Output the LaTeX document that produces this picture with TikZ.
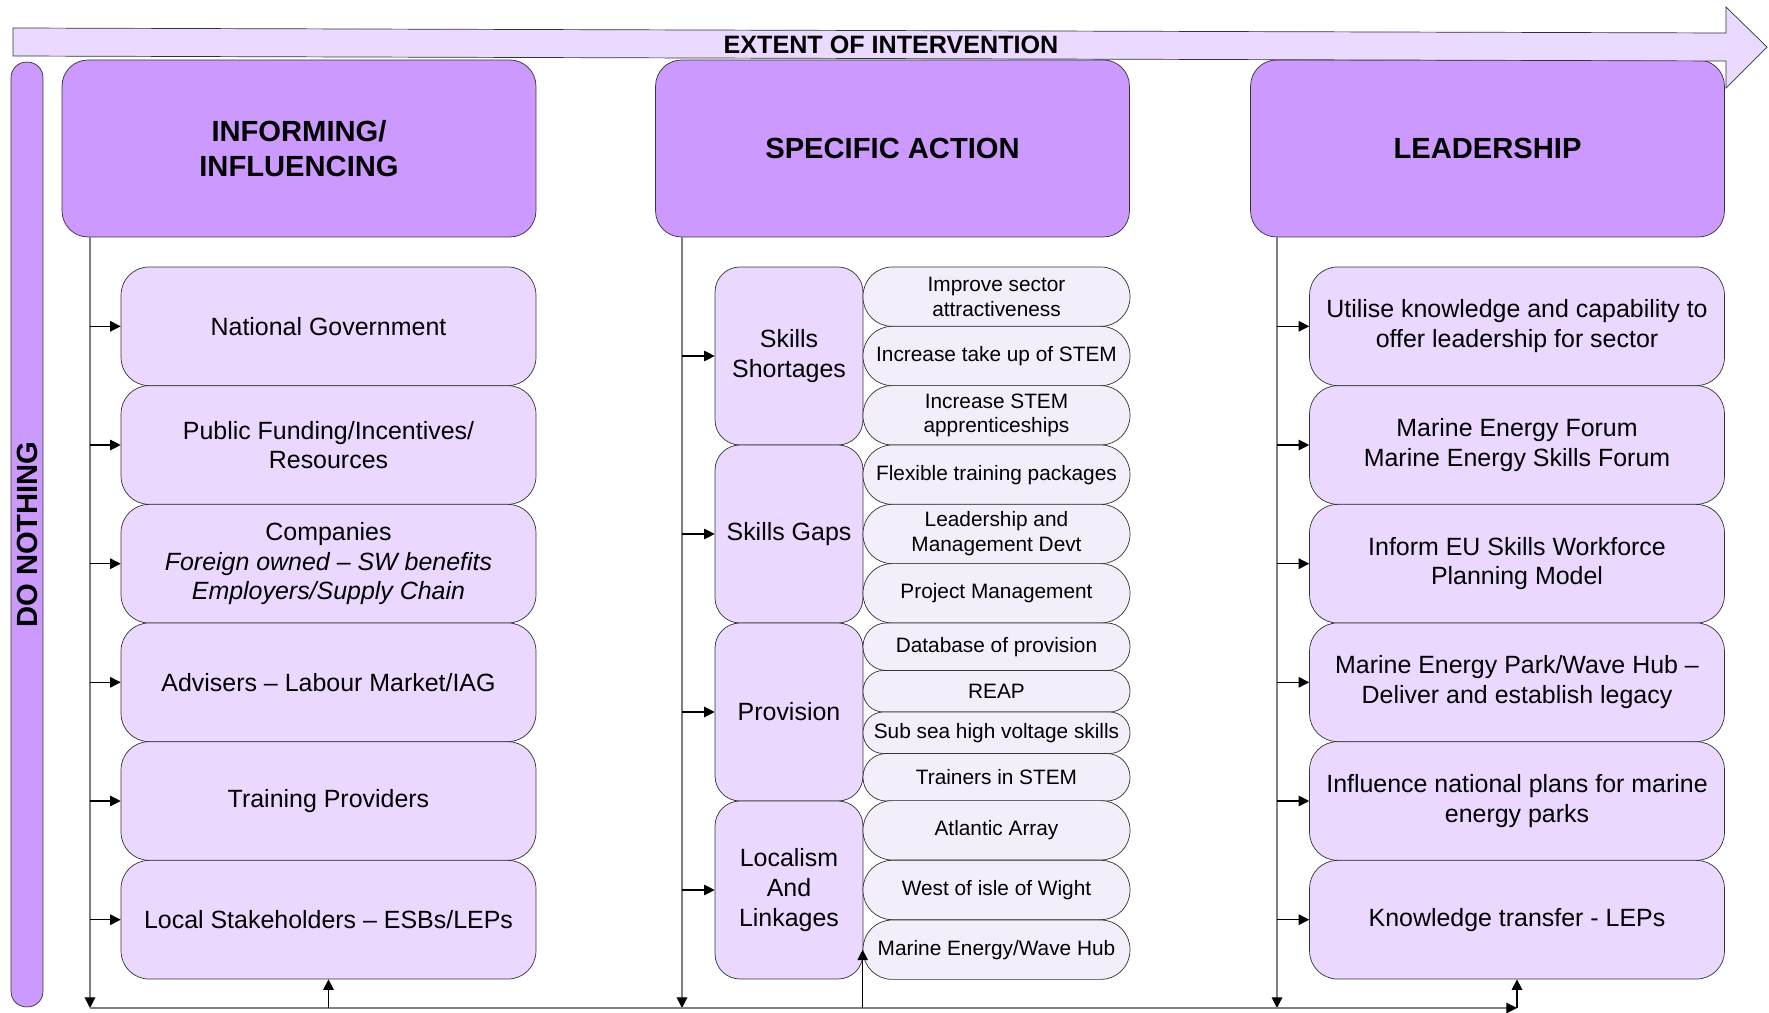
\documentclass[tikz,border=0pt]{standalone}
\usepackage{fontspec}
\setmainfont{Liberation Sans}
\usepackage{tikz}
\usetikzlibrary{arrows.meta}
\definecolor{headfill}{HTML}{CC99FF}
\definecolor{itemfill}{HTML}{EAD8FF}
\definecolor{subfill}{HTML}{F4EDFA}
\definecolor{bandfill}{HTML}{EBDAFF}

\begin{document}
\begin{tikzpicture}[x=0.02cm,y=-0.02cm,
    head/.style={draw=black!80,fill=headfill,rounded corners=0.52cm,minimum width=9.48cm,minimum height=3.54cm,inner sep=0pt,align=center,font=\fontsize{16.6}{20}\selectfont\bfseries},
    item/.style={draw=black!80,fill=itemfill,rounded corners=0.56cm,minimum width=8.3cm,minimum height=2.373cm,inner sep=0pt,align=center,font=\fontsize{14.2}{16.8}\selectfont},
    cat/.style={item,minimum width=2.96cm,minimum height=3.56cm,rounded corners=0.5cm,font=\fontsize{14.2}{17}\selectfont},
    sub/.style={draw=black!80,fill=subfill,minimum width=5.34cm,minimum height=#1cm,rounded corners=#1*0.49cm,inner sep=0pt,align=center,font=\fontsize{11.85}{14.1}\selectfont},
    spine/.style={draw=black!50,line width=0.6pt},
    tip/.style={line width=0.6pt,-{Triangle[length=6pt,width=6pt,color=black]}}]
    \useasboundingbox (0,0) rectangle (1769,1013);
    \node[head] (hInform) at (299,148.5) {INFORMING/\\INFLUENCING};
    \node[head] (hAction) at (892.5,148.5) {SPECIFIC ACTION};
    \node[head] (hLead) at (1487.5,148.5) {LEADERSHIP};
    \draw[draw=black!80,fill=bandfill] (13,28) -- (1726,33) -- (1726,7) -- (1767,47) -- (1726,88) -- (1726,61) -- (13,56) -- cycle;
    \node[font=\fontsize{14.3}{17}\selectfont\bfseries] (band) at (891,44.5) {EXTENT OF INTERVENTION};
    \node[draw=black!80,fill=headfill,rounded corners=0.31cm,minimum width=18.9cm,minimum height=0.64cm,inner sep=0pt,rotate=90,font=\fontsize{16.6}{20}\selectfont\bfseries] (idle) at (27,534.5) {DO NOTHING};

    \node[item] (l1) at (328.5,326.3) {National Government};
    \node[item] (l2) at (328.5,445) {Public Funding/Incentives/\\Resources};
    \node[item] (l3) at (328.5,563.7) {Companies\\\itshape Foreign owned -- SW benefits\\\itshape Employers/Supply Chain};
    \node[item] (l4) at (328.5,682.3) {Advisers -- Labour Market/IAG};
    \node[item] (l5) at (328.5,801) {Training Providers};
    \node[item] (l6) at (328.5,919.7) {Local Stakeholders -- ESBs/LEPs};

    \node[cat] (cShort) at (789,356) {Skills\\Shortages};
    \node[cat] (cGaps) at (789,534) {Skills Gaps};
    \node[cat] (cProv) at (789,712) {Provision};
    \node[cat] (cLocal) at (789,890) {Localism\\And\\Linkages};
    \node[sub=1.187] (s1) at (996.5,296.7) {Improve sector\\attractiveness};
    \node[sub=1.187] (s2) at (996.5,356) {Increase take up of STEM};
    \node[sub=1.187] (s3) at (996.5,415.3) {Increase STEM\\apprenticeships};
    \node[sub=1.187] (s4) at (996.5,474.7) {Flexible training packages};
    \node[sub=1.187] (s5) at (996.5,534) {Leadership and\\Management Devt};
    \node[sub=1.187] (s6) at (996.5,593.3) {Project Management};
    \node[sub=0.95] (s7) at (996.5,646.75) {Database of provision};
    \node[sub=0.83] (s8) at (996.5,691.25) {REAP};
    \node[sub=0.83] (s9) at (996.5,732.75) {Sub sea high voltage skills};
    \node[sub=0.95] (s10) at (996.5,777.25) {Trainers in STEM};
    \node[sub=1.187] (s11) at (996.5,830.3) {Atlantic Array};
    \node[sub=1.187] (s12) at (996.5,890) {West of isle of Wight};
    \node[sub=1.187] (s13) at (996.5,949.7) {Marine Energy/Wave Hub};

    \node[item] (r1) at (1517,326.3) {Utilise knowledge and capability to\\offer leadership for sector};
    \node[item] (r2) at (1517,445) {Marine Energy Forum\\Marine Energy Skills Forum};
    \node[item] (r3) at (1517,563.7) {Inform EU Skills Workforce\\Planning Model};
    \node[item] (r4) at (1517,682.3) {Marine Energy Park/Wave Hub --\\Deliver and establish legacy};
    \node[item] (r5) at (1517,801) {Influence national plans for marine\\energy parks};
    \node[item] (r6) at (1517,919.7) {Knowledge transfer - LEPs};

    \coordinate (lfoot) at (90,1008);
    \coordinate (mfoot) at (682,1008);
    \coordinate (rfoot) at (1277,1008);
    \coordinate (endfoot) at (1517,1008);
    \draw[spine,tip] (hInform.south -| lfoot) -- (lfoot);
    \draw[spine,tip] (hAction.south -| mfoot) -- (mfoot);
    \draw[spine,tip] (hLead.south -| rfoot) -- (rfoot);
    \draw[spine,tip] (lfoot) -- (endfoot);
    \draw[tip] (endfoot) -- (r6.south);
    \draw[tip] (l6.south |- lfoot) -- (l6.south);
    \draw[tip] (s13.west |- lfoot) -- (s13.west);
    \foreach \i in {1,...,6} {
      \draw[tip] (l\i.west -| lfoot) -- (l\i.west);
      \draw[tip] (r\i.west -| rfoot) -- (r\i.west);
    }
    \foreach \c in {cShort,cGaps,cProv,cLocal}
      \draw[tip] (\c.west -| mfoot) -- (\c.west);
  \end{tikzpicture}
\end{document}
